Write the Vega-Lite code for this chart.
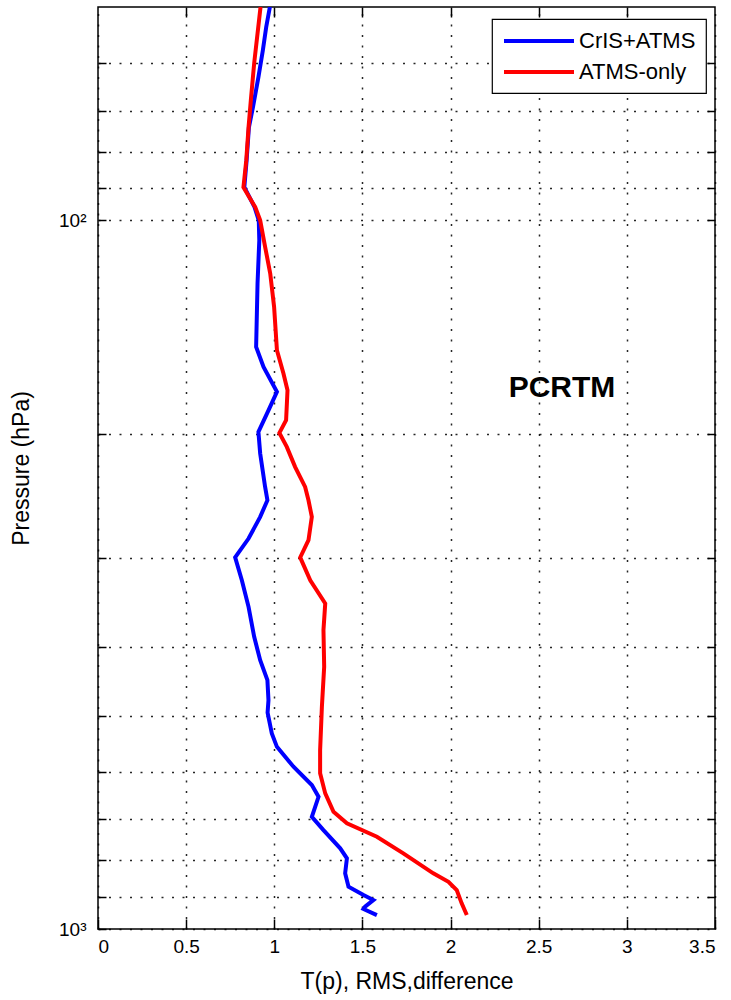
{
  "$schema": "https://vega.github.io/schema/vega-lite/v6.json",
  "width": 617,
  "height": 922,
  "autosize": {"type": "none"},
  "padding": {"left": 98, "top": 7, "right": 16, "bottom": 71},
  "background": "white",
  "config": {
    "font": "Liberation Sans",
    "view": {"stroke": "black", "strokeWidth": 1.5},
    "legend": {"strokeWidth": 1.2}
  },
  "datasets": {
    "curves": [
      {"series": "CrIS+ATMS", "p": 50, "x": 0.975},
      {"series": "CrIS+ATMS", "p": 53.4, "x": 0.954},
      {"series": "CrIS+ATMS", "p": 57.6, "x": 0.935},
      {"series": "CrIS+ATMS", "p": 62.8, "x": 0.91},
      {"series": "CrIS+ATMS", "p": 69.2, "x": 0.879},
      {"series": "CrIS+ATMS", "p": 73.9, "x": 0.856},
      {"series": "CrIS+ATMS", "p": 82.3, "x": 0.843},
      {"series": "CrIS+ATMS", "p": 89.8, "x": 0.83},
      {"series": "CrIS+ATMS", "p": 95.8, "x": 0.888},
      {"series": "CrIS+ATMS", "p": 100, "x": 0.912},
      {"series": "CrIS+ATMS", "p": 106.7, "x": 0.915},
      {"series": "CrIS+ATMS", "p": 122.8, "x": 0.905},
      {"series": "CrIS+ATMS", "p": 150.9, "x": 0.897},
      {"series": "CrIS+ATMS", "p": 161, "x": 0.939},
      {"series": "CrIS+ATMS", "p": 174.6, "x": 1.015},
      {"series": "CrIS+ATMS", "p": 185.4, "x": 0.967},
      {"series": "CrIS+ATMS", "p": 198.9, "x": 0.91},
      {"series": "CrIS+ATMS", "p": 213.3, "x": 0.92},
      {"series": "CrIS+ATMS", "p": 237.8, "x": 0.948},
      {"series": "CrIS+ATMS", "p": 248.3, "x": 0.961},
      {"series": "CrIS+ATMS", "p": 262.1, "x": 0.92},
      {"series": "CrIS+ATMS", "p": 281.2, "x": 0.854},
      {"series": "CrIS+ATMS", "p": 299, "x": 0.778},
      {"series": "CrIS+ATMS", "p": 322, "x": 0.816},
      {"series": "CrIS+ATMS", "p": 351.1, "x": 0.854},
      {"series": "CrIS+ATMS", "p": 387, "x": 0.886},
      {"series": "CrIS+ATMS", "p": 417.5, "x": 0.92},
      {"series": "CrIS+ATMS", "p": 445.5, "x": 0.961},
      {"series": "CrIS+ATMS", "p": 475.5, "x": 0.967},
      {"series": "CrIS+ATMS", "p": 495, "x": 0.962},
      {"series": "CrIS+ATMS", "p": 529.7, "x": 0.986},
      {"series": "CrIS+ATMS", "p": 553.3, "x": 1.015},
      {"series": "CrIS+ATMS", "p": 590.3, "x": 1.109},
      {"series": "CrIS+ATMS", "p": 626.4, "x": 1.213},
      {"series": "CrIS+ATMS", "p": 650.8, "x": 1.251},
      {"series": "CrIS+ATMS", "p": 672.3, "x": 1.232},
      {"series": "CrIS+ATMS", "p": 694.5, "x": 1.213},
      {"series": "CrIS+ATMS", "p": 725.2, "x": 1.279},
      {"series": "CrIS+ATMS", "p": 769.5, "x": 1.374},
      {"series": "CrIS+ATMS", "p": 794.9, "x": 1.412},
      {"series": "CrIS+ATMS", "p": 834.6, "x": 1.402},
      {"series": "CrIS+ATMS", "p": 871.5, "x": 1.421},
      {"series": "CrIS+ATMS", "p": 895.4, "x": 1.506},
      {"series": "CrIS+ATMS", "p": 910.2, "x": 1.562},
      {"series": "CrIS+ATMS", "p": 930, "x": 1.515},
      {"series": "CrIS+ATMS", "p": 937.1, "x": 1.506},
      {"series": "CrIS+ATMS", "p": 955.7, "x": 1.582},
      {"series": "ATMS-only", "p": 50, "x": 0.922},
      {"series": "ATMS-only", "p": 54.5, "x": 0.905},
      {"series": "ATMS-only", "p": 60, "x": 0.886},
      {"series": "ATMS-only", "p": 67.7, "x": 0.867},
      {"series": "ATMS-only", "p": 73.9, "x": 0.854},
      {"series": "ATMS-only", "p": 82.3, "x": 0.841},
      {"series": "ATMS-only", "p": 89.8, "x": 0.825},
      {"series": "ATMS-only", "p": 91.6, "x": 0.845},
      {"series": "ATMS-only", "p": 95.8, "x": 0.892},
      {"series": "ATMS-only", "p": 100, "x": 0.92},
      {"series": "ATMS-only", "p": 108, "x": 0.945},
      {"series": "ATMS-only", "p": 118.9, "x": 0.977},
      {"series": "ATMS-only", "p": 132.5, "x": 0.999},
      {"series": "ATMS-only", "p": 152.5, "x": 1.015},
      {"series": "ATMS-only", "p": 164.5, "x": 1.052},
      {"series": "ATMS-only", "p": 173.7, "x": 1.075},
      {"series": "ATMS-only", "p": 191.5, "x": 1.067},
      {"series": "ATMS-only", "p": 199.5, "x": 1.029},
      {"series": "ATMS-only", "p": 208.8, "x": 1.071},
      {"series": "ATMS-only", "p": 222.8, "x": 1.118},
      {"series": "ATMS-only", "p": 237.8, "x": 1.175},
      {"series": "ATMS-only", "p": 248.3, "x": 1.194},
      {"series": "ATMS-only", "p": 262.1, "x": 1.213},
      {"series": "ATMS-only", "p": 282.7, "x": 1.194},
      {"series": "ATMS-only", "p": 299, "x": 1.147},
      {"series": "ATMS-only", "p": 322, "x": 1.204},
      {"series": "ATMS-only", "p": 347.2, "x": 1.289},
      {"series": "ATMS-only", "p": 378.7, "x": 1.279},
      {"series": "ATMS-only", "p": 426.6, "x": 1.283},
      {"series": "ATMS-only", "p": 485.9, "x": 1.27},
      {"series": "ATMS-only", "p": 559.2, "x": 1.26},
      {"series": "ATMS-only", "p": 603, "x": 1.26},
      {"series": "ATMS-only", "p": 643.7, "x": 1.289},
      {"series": "ATMS-only", "p": 683.4, "x": 1.336},
      {"series": "ATMS-only", "p": 709.5, "x": 1.412},
      {"series": "ATMS-only", "p": 741, "x": 1.582},
      {"series": "ATMS-only", "p": 782, "x": 1.732},
      {"series": "ATMS-only", "p": 834.6, "x": 1.902},
      {"series": "ATMS-only", "p": 857.8, "x": 1.988},
      {"series": "ATMS-only", "p": 881, "x": 2.035},
      {"series": "ATMS-only", "p": 920, "x": 2.063},
      {"series": "ATMS-only", "p": 955.7, "x": 2.092}
    ],
    "label": [{"x": 2.632, "p": 172.5, "t": "PCRTM"}]
  },
  "layer": [
    {
      "data": {"name": "curves"},
      "mark": {"type": "line", "strokeWidth": 4, "clip": true},
      "encoding": {
        "x": {
          "field": "x", "type": "quantitative",
          "scale": {"domain": [0, 3.5], "nice": false, "zero": false},
          "axis": {
            "orient": "bottom",
            "values": [0, 0.5, 1, 1.5, 2, 2.5, 3, 3.5],
            "format": "~g",
            "labelFontSize": 19, "labelColor": "black", "labelPadding": 18,
            "tickSize": -10, "tickColor": "black", "tickWidth": 1.5,
            "domain": false,
            "grid": true, "gridColor": "black", "gridDash": [2, 8.5], "gridWidth": 1.5, "gridOpacity": 0.85,
            "title": "T(p), RMS,difference",
            "titleFontSize": 23, "titleFontWeight": "normal", "titleColor": "black", "titlePadding": 14
          }
        },
        "y": {
          "field": "p", "type": "quantitative",
          "scale": {"type": "log", "domain": [50, 1000], "reverse": true, "nice": false},
          "axis": {
            "orient": "left",
            "values": [60, 70, 80, 90, 100, 200, 300, 400, 500, 600, 700, 800, 900, 1000],
            "labelExpr": "datum.value == 100 ? '10²' : (datum.value == 1000 ? '10³' : '')",
            "labelFontSize": 19, "labelColor": "black", "labelPadding": 20,
            "tickSize": -8, "tickColor": "black", "tickWidth": 1.5,
            "domain": false,
            "grid": true, "gridColor": "black", "gridDash": [2, 8.5], "gridWidth": 1.5, "gridOpacity": 0.85,
            "title": "Pressure (hPa)",
            "titleFontSize": 23, "titleFontWeight": "normal", "titleColor": "black", "titlePadding": 25
          }
        },
        "color": {
          "field": "series", "type": "nominal",
          "scale": {"domain": ["CrIS+ATMS", "ATMS-only"], "range": ["#0000ff", "#ff0000"]},
          "legend": {
            "orient": "none", "legendX": 394, "legendY": 12,
            "title": null,
            "symbolType": "M-3.5,0H3.5", "symbolSize": 400, "symbolStrokeWidth": 4, "symbolOffset": 25,
            "labelFontSize": 22, "labelFont": "Liberation Sans", "labelColor": "black", "labelOffset": 28,
            "labelExpr": "datum.label + '  '",
            "strokeColor": "black", "fillColor": "white",
            "padding": 10, "rowPadding": 8
          }
        },
        "order": {"field": "p", "type": "quantitative"}
      }
    },
    {
      "data": {"name": "label"},
      "mark": {"type": "text", "font": "Liberation Sans", "fontWeight": "bold", "fontSize": 30, "align": "center", "baseline": "middle", "color": "black"},
      "encoding": {
        "x": {
          "field": "x", "type": "quantitative",
          "scale": {"domain": [0, 3.5], "nice": false, "zero": false},
          "axis": {
            "orient": "top", "values": [0.5, 1, 1.5, 2, 2.5, 3],
            "labels": false, "grid": false, "domain": false, "title": null,
            "tickSize": -10, "tickColor": "black", "tickWidth": 1.5
          }
        },
        "y": {
          "field": "p", "type": "quantitative",
          "scale": {"type": "log", "domain": [50, 1000], "reverse": true, "nice": false},
          "axis": {
            "orient": "right", "values": [60, 70, 80, 90, 100, 200, 300, 400, 500, 600, 700, 800, 900],
            "labels": false, "grid": false, "domain": false, "title": null,
            "tickSize": -8, "tickColor": "black", "tickWidth": 1.5
          }
        },
        "text": {"field": "t"}
      }
    }
  ],
  "resolve": {"axis": {"x": "independent", "y": "independent"}}
}
